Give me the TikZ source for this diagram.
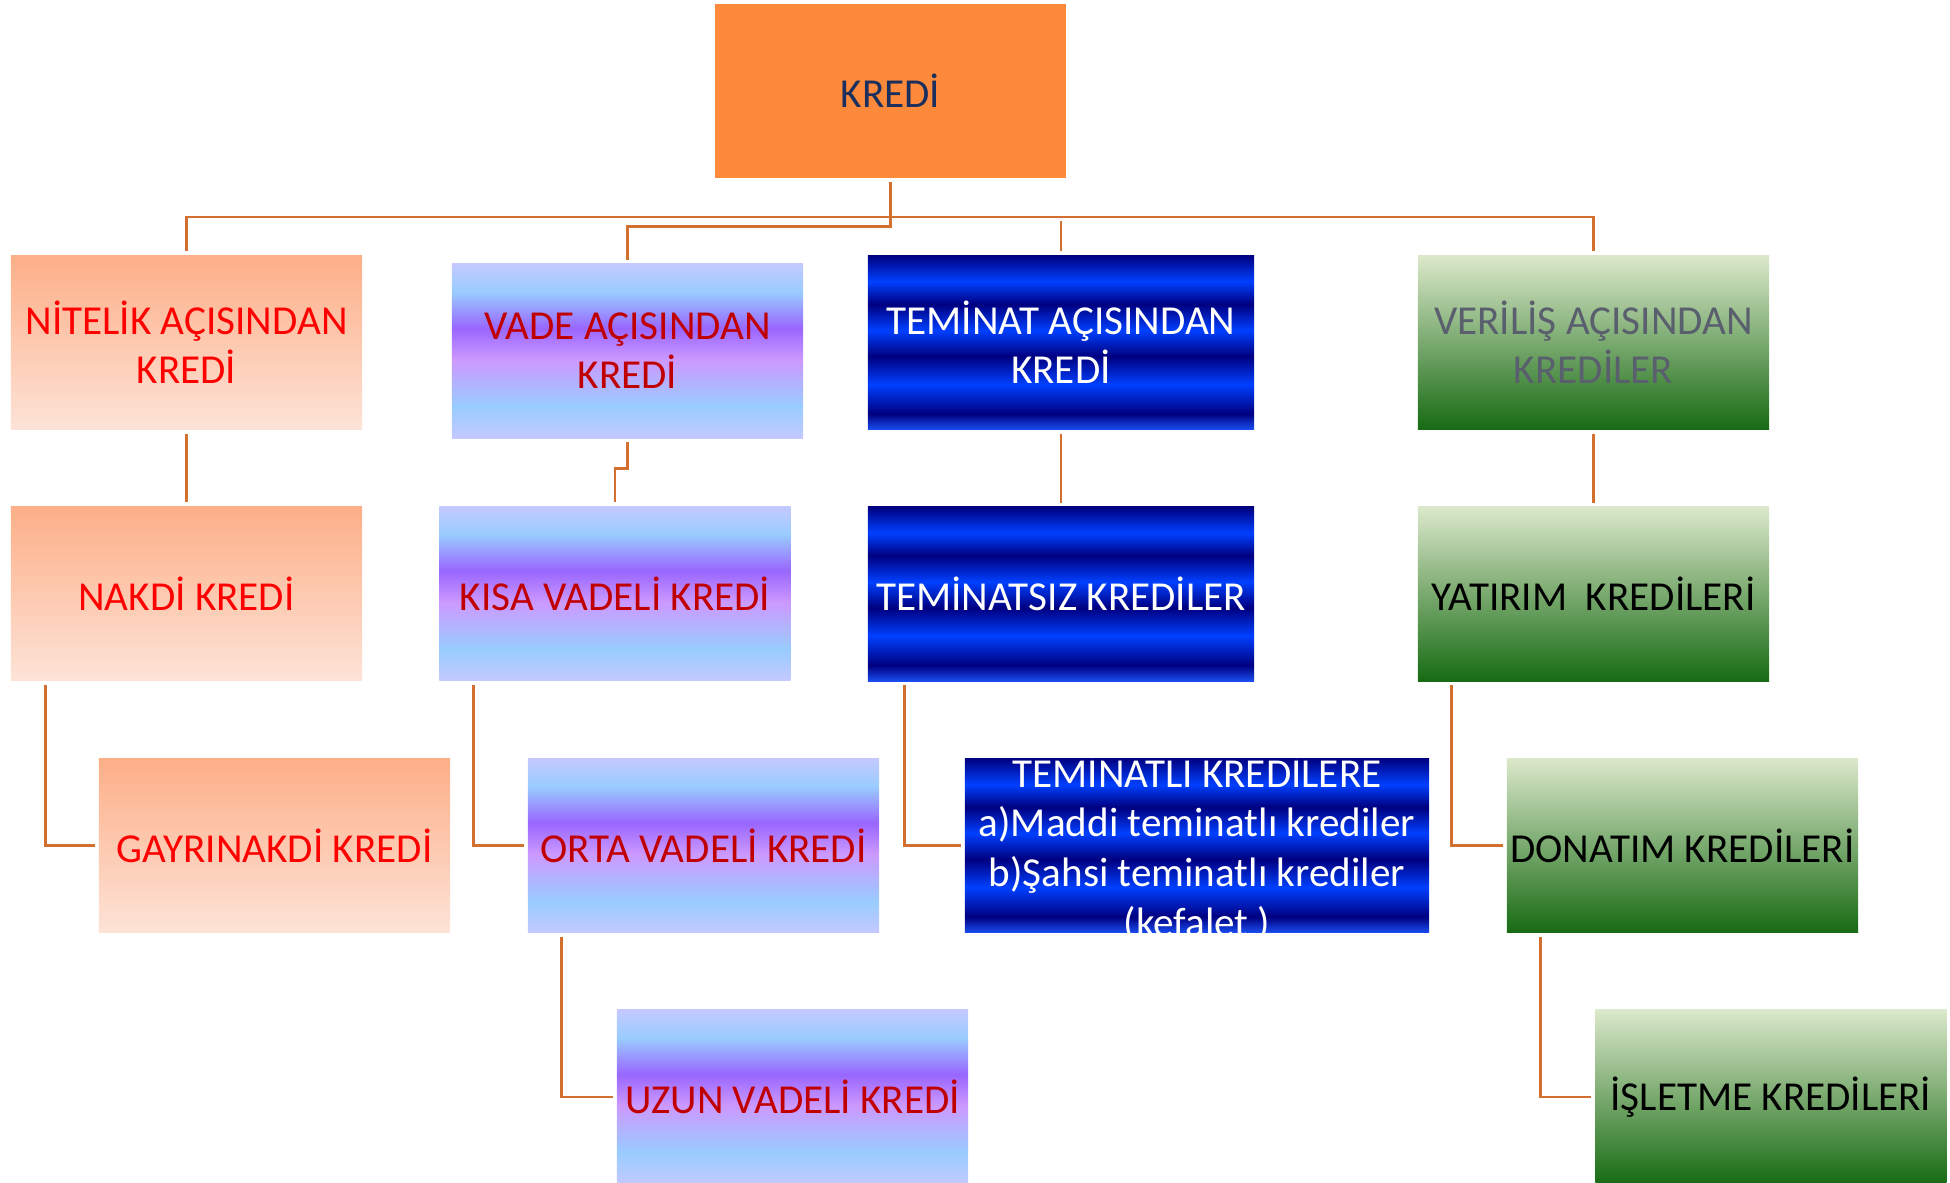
\documentclass[tikz,border=0pt]{standalone}
\usepackage{fontspec}
\setmainfont{Carlito}
\usepackage{tikz}
\usetikzlibrary{calc}

% Colours
\definecolor{krediorange}{HTML}{FD8A3A}
\definecolor{kredinavy}{HTML}{1B2F5E}
\definecolor{linkorange}{HTML}{D4702F}
\definecolor{nitelikTop}{HTML}{FDAF88}
\definecolor{nitelikBot}{HTML}{FDE3D7}
\definecolor{vadeRed}{HTML}{C00000}
\definecolor{vLav}{HTML}{C4C9FF}
\definecolor{vBlue}{HTML}{99CCFF}
\definecolor{vPurple}{HTML}{9966FF}
\definecolor{vLilac}{HTML}{CC99FF}
\definecolor{tDark}{HTML}{000080}
\definecolor{tBright}{HTML}{0040FF}
\definecolor{tEdge}{HTML}{1A4DF0}
\definecolor{gTop}{HTML}{DCE8CB}
\definecolor{gMid}{HTML}{9DBC70}
\definecolor{gBot}{HTML}{176B13}
\definecolor{verilisGray}{HTML}{5A5F6E}

% Shadings (the middle 25bp--75bp fills the box)
\pgfdeclareverticalshading{vadeshade}{100bp}{color(0bp)=(vLav); color(25bp)=(vLav);
    color(34bp)=(vBlue); color(47.5bp)=(vLilac); color(56.5bp)=(vPurple);
    color(67bp)=(vBlue); color(75bp)=(vLav); color(100bp)=(vLav)}
\pgfdeclareverticalshading{teminatshade}{100bp}{color(0bp)=(tEdge); color(25bp)=(tEdge);
    color(29.5bp)=(tDark); color(38bp)=(tBright); color(46bp)=(tDark);
    color(53.5bp)=(tBright); color(61bp)=(tDark); color(67.5bp)=(tBright);
    color(75bp)=(tDark); color(100bp)=(tDark)}

\begin{document}
\begin{tikzpicture}[x=0.01cm,y=-0.01cm]

    % Define box dimensions
    \def\boxw{3.51cm}  % Box width
    \def\boxh{1.74cm}  % Box height
    
    \tikzset{
        box/.style={minimum width=\boxw, minimum height=\boxh, inner sep=0pt,
            align=center, font=\fontsize{11.7}{14}\selectfont},
        krediBox/.style={box, fill=krediorange, text=kredinavy},
        nitelikBox/.style={box, top color=nitelikTop, bottom color=nitelikBot, text=red},
        vadeBox/.style={box, shading=vadeshade, text=vadeRed},
        teminatBox/.style={box, shading=teminatshade, text=white, minimum width=3.86cm},
        verilisBox/.style={box, top color=gTop, middle color=gMid, bottom color=gBot, text=black},
        link/.style={draw=linkorange, line width=0.8pt, shorten <=1pt, shorten >=1pt},
    }
    
    \useasboundingbox (0,0) rectangle (1950,1183);
    
    % Top box
    \node[krediBox] (kredi) at (890.5,91) {KREDİ};
    
    % First level
    \node[nitelikBox] (nitelik) at (186.5,342.5) {NİTELİK AÇISINDAN\\KREDİ};
    \node[vadeBox] (vade) at (627.5,351) {VADE AÇISINDAN\\KREDİ};
    \node[teminatBox] (teminat) at (1061,342.5) {TEMİNAT AÇISINDAN\\KREDİ};
    \node[verilisBox, text=verilisGray] (verilis) at (1593.5,342.5) {VERİLİŞ AÇISINDAN\\KREDİLER};
    
    % Second level
    \node[nitelikBox] (nakdi) at (186.5,593.5) {NAKDİ KREDİ};
    \node[vadeBox] (kisa) at (615,593.5) {KISA VADELİ KREDİ};
    \node[teminatBox] (teminatsiz) at (1061,594) {TEMİNATSIZ KREDİLER};
    \node[verilisBox] (yatirim) at (1593.5,594) {YATIRIM\ \ KREDİLERİ};
    
    % Third level
    \node[nitelikBox] (gayri) at (274.5,845.5) {GAYRINAKDİ KREDİ};
    \node[vadeBox] (orta) at (703.5,845.5) {ORTA VADELİ KREDİ};
    \node[teminatBox, minimum width=4.64cm] (teminatli) at (1197,845.5) {};
    \node[align=center, text=white, font=\fontsize{11.7}{14.2}\selectfont] (teminatlitext) at (1197,848)
        {TEMİNATLI KREDİLERE\\a)Maddi teminatlı krediler\\b)Şahsi teminatlı krediler\\(kefalet )};
    \node[verilisBox] (donatim) at (1682.5,845.5) {DONATIM KREDİLERİ};
    
    % Fourth level
    \node[vadeBox] (uzun) at (792.5,1097) {UZUN VADELİ KREDİ};
    \node[verilisBox] (isletme) at (1771,1097) {İŞLETME KREDİLERİ};
    
    % Connectors to the first level
    \coordinate (bus) at (890,217);
    \draw[link] (kredi.south) -- ++(0,48) -| (vade.north);
    \draw[link] (nitelik.north) |- (bus) -| (verilis.north);
    \draw[link] (teminat.north) -- (teminat.north |- bus);
    
    % Connectors to the second level
    \draw[link] (nitelik.south) -- (nakdi.north);
    \draw[link] (vade.south) -- ++(0,30) -| (kisa.north);
    \draw[link] (teminat.south) -- (teminatsiz.north);
    \draw[link] (verilis.south) -- (yatirim.north);
    
    % Connectors to the lower levels
    \draw[link] ([xshift=0.35cm]nakdi.south west) |- (gayri.west);
    \draw[link] ([xshift=0.35cm]kisa.south west) |- (orta.west);
    \draw[link] ([xshift=0.37cm]teminatsiz.south west) |- (teminatli.west);
    \draw[link] ([xshift=0.34cm]yatirim.south west) |- (donatim.west);
    \draw[link] ([xshift=0.34cm]orta.south west) |- (uzun.west);
    \draw[link] ([xshift=0.34cm]donatim.south west) |- (isletme.west);
    
\end{tikzpicture}
\end{document}
